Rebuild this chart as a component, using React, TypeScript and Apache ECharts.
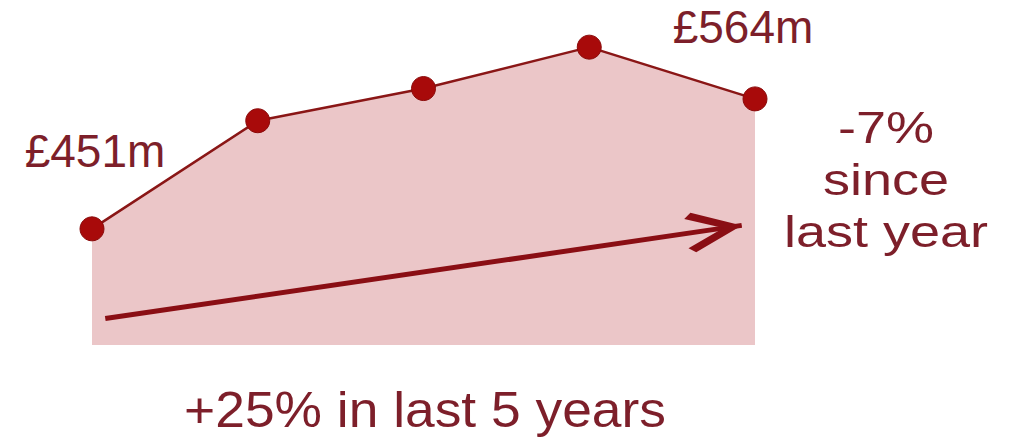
import React, { useEffect, useRef } from "react";
import * as echarts from "echarts";

const years = [0, 1, 2, 3, 4];
const values = [451, 545, 573, 609, 564];
const labelTexts = ["£451m", "", "", "", "£564m"];
const arrowStart = [0.08, 373];
const arrowEnd = [3.92, 454];
const sideNote = "-7%\nsince\nlast year";
const bottomNote = "+25% in last 5 years";

const TEXT = "#7d1f2a";
const LINE = "#8a1616";
const FONT = "Liberation Sans, Arial, sans-serif";

export default function App() {
  const ref = useRef<HTMLDivElement>(null);
  useEffect(() => {
    document.body.style.margin = "0";
    const chart = echarts.init(ref.current!, null, { renderer: "svg" });
    const data = years.map((x, i) => ({
      value: [x, values[i]],
      label: labelTexts[i]
        ? {
            show: true,
            formatter: labelTexts[i],
            position: "top",
            distance: i === 0 ? 42 : 36,
            offset: i === 0 ? [3, 0] : [-12, 0],
          }
        : { show: false },
    }));
    chart.setOption({
      animation: false,
      grid: { left: 92, right: 255, top: 0, bottom: 98 },
      xAxis: { type: "value", min: 0, max: 4, show: false },
      yAxis: { type: "value", min: 350, max: 650, show: false },
      series: [
        {
          type: "line",
          data,
          symbol: "circle",
          symbolSize: 24,
          lineStyle: { color: LINE, width: 2.5 },
          itemStyle: { color: "#a80a0a", borderColor: "#8a0a0a", borderWidth: 1 },
          areaStyle: { color: "#ebc6c8", opacity: 1, origin: "start" },
          label: {
            color: TEXT,
            fontSize: 46,
            fontFamily: FONT,
          },
          markLine: {
            silent: true,
            symbol: [
              "none",
              "path://M0,-17.5 L0.01,-17.5 L0,-17.49 Z M0,0 L10,15.3 L7.4,17.5 L0,5.8 L-7.4,17.5 L-10,15.3 Z",
            ],
            symbolSize: [40, 112],
            label: { show: false },
            lineStyle: { color: "#8a0e14", width: 5, type: "solid" },
            data: [[{ coord: arrowStart }, { coord: arrowEnd }]],
          },
        },
      ],
      graphic: [
        {
          type: "text",
          x: 886,
          y: 102,
          scaleX: 1.2,
          style: {
            text: sideNote,
            fill: TEXT,
            fontSize: 45,
            lineHeight: 52,
            align: "center",
            verticalAlign: "top",
            fontFamily: FONT,
          },
        },
        {
          type: "text",
          x: 425,
          y: 410,
          scaleX: 1.067,
          style: {
            text: bottomNote,
            fill: TEXT,
            fontSize: 50,
            align: "center",
            verticalAlign: "middle",
            fontFamily: FONT,
          },
        },
      ],
    });
    return () => chart.dispose();
  }, []);
  return <div ref={ref} style={{ width: 1010, height: 443 }} />;
}
